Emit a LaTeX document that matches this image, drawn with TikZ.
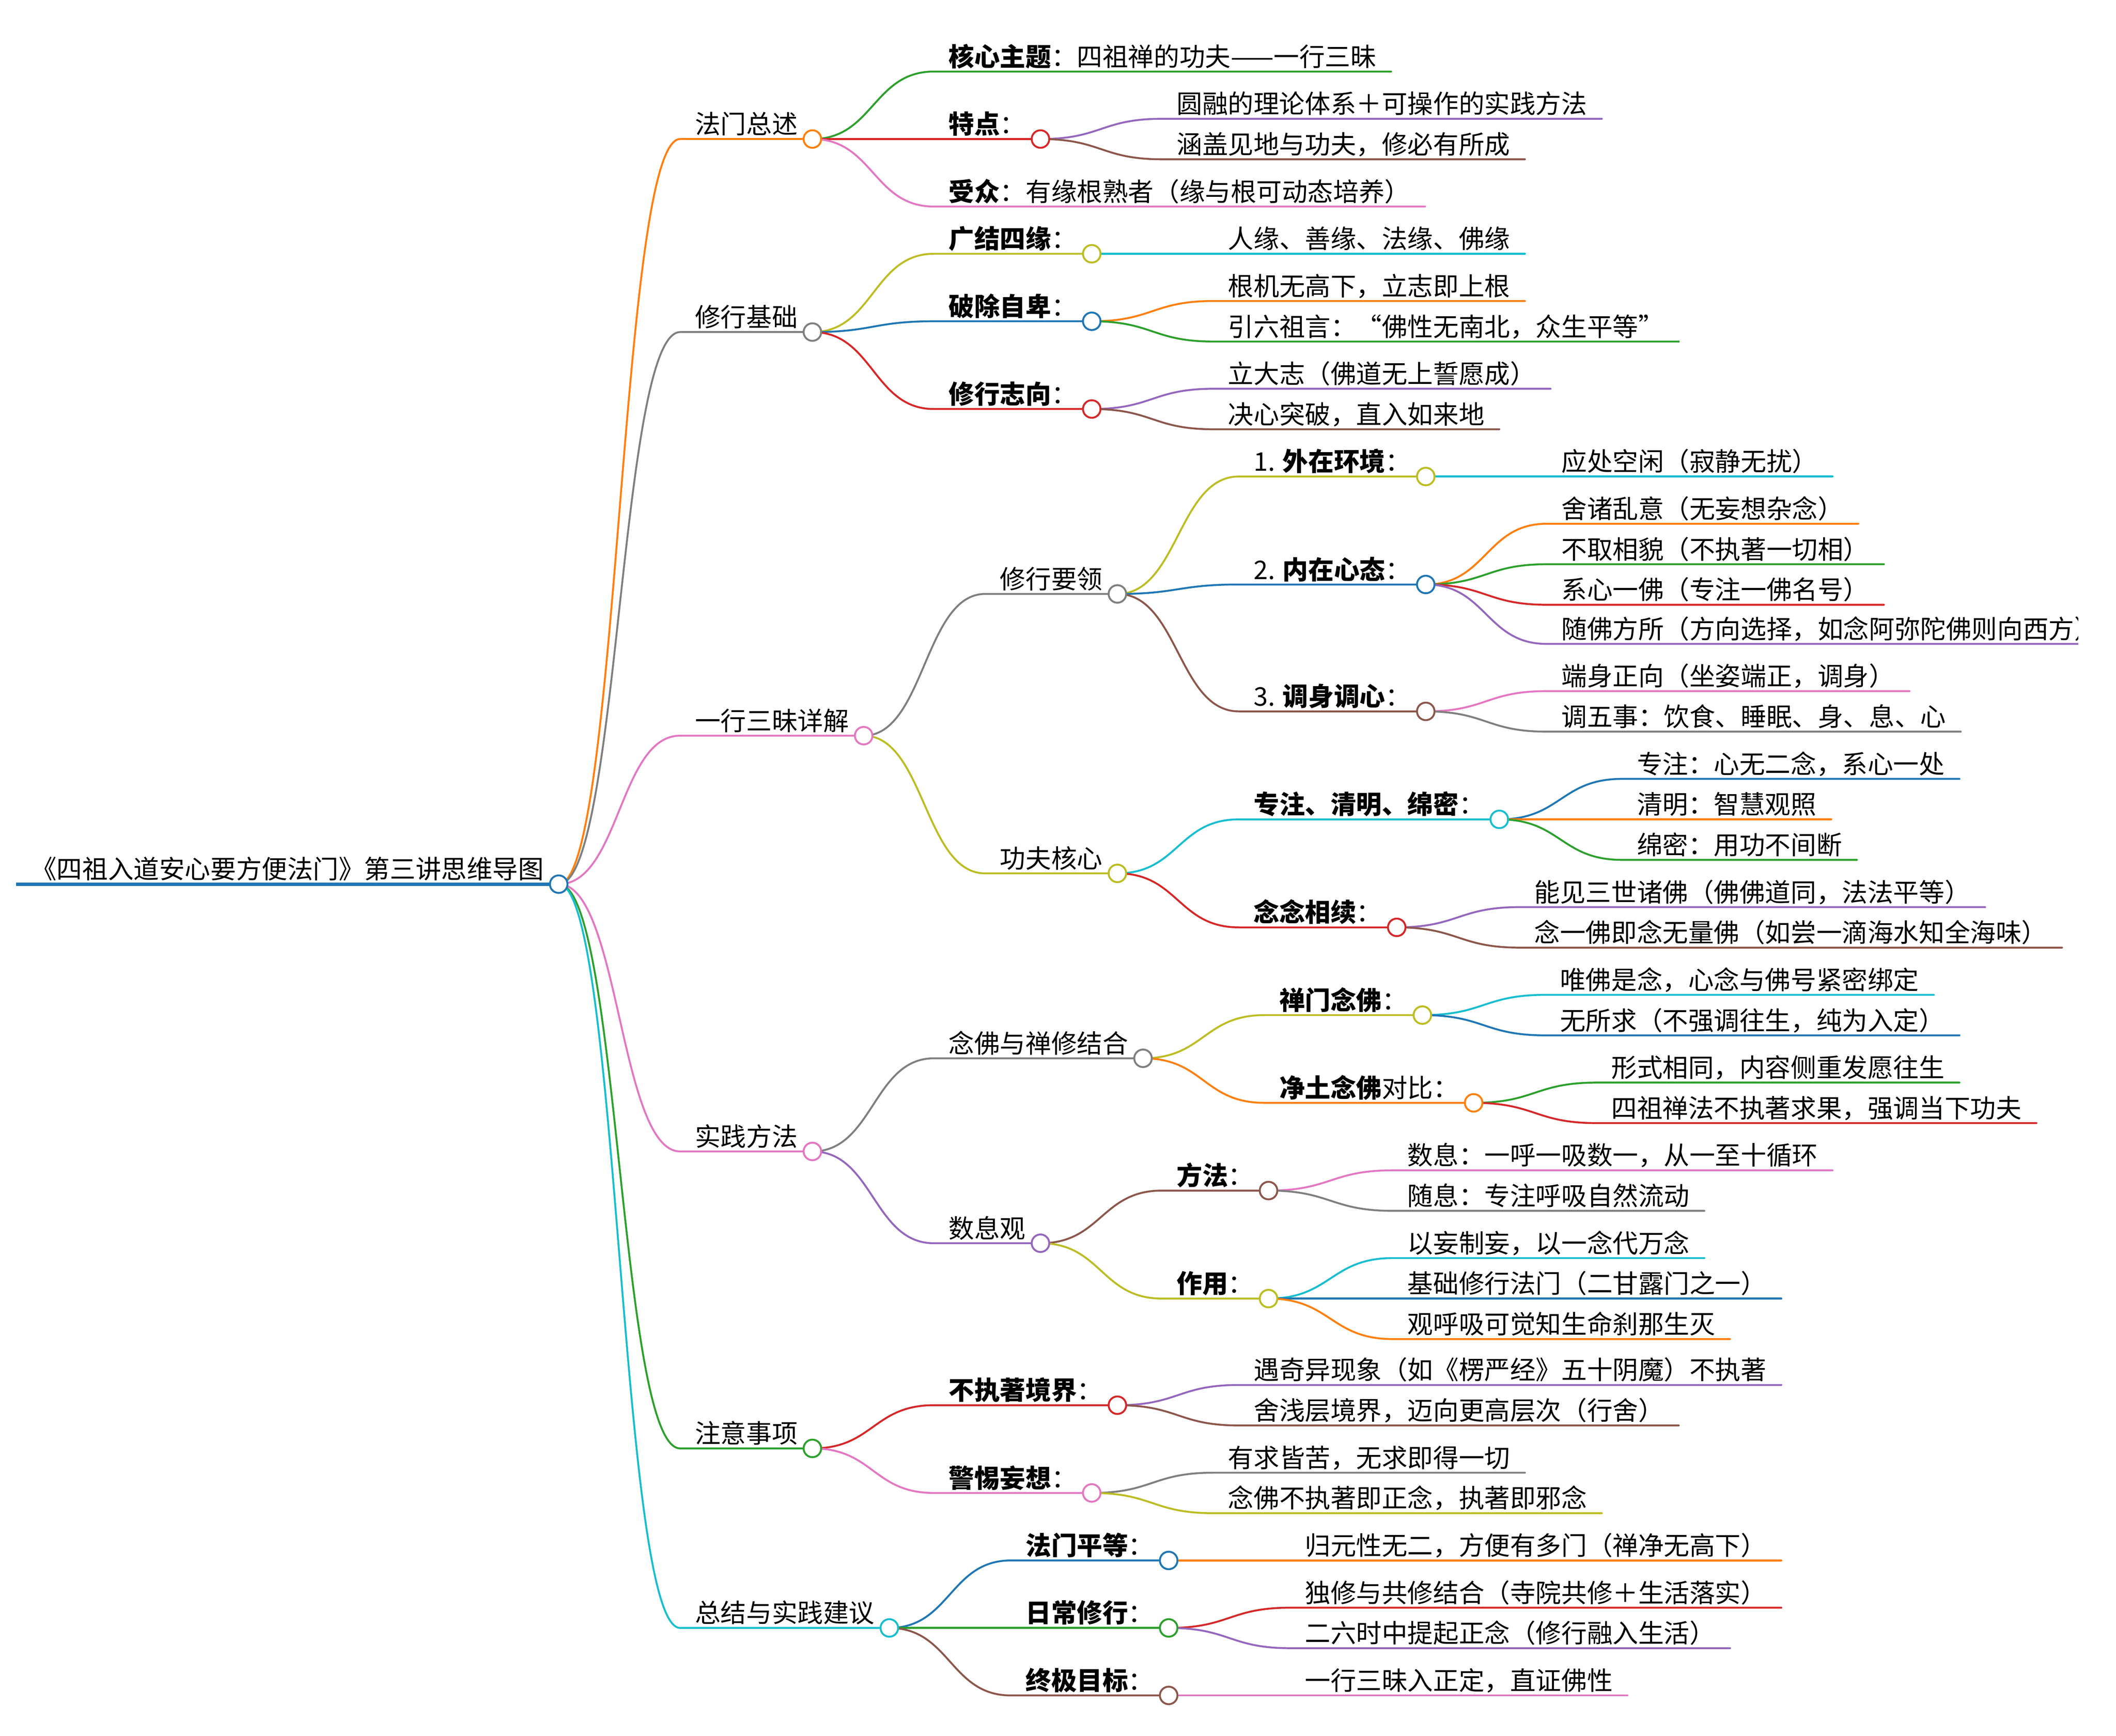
\documentclass[tikz,border=0pt]{standalone}
\usepackage{fontspec}
\setmainfont{Noto Sans CJK SC}
\usetikzlibrary{calc}
\definecolor{cblue}{HTML}{1F77B4}
\definecolor{corange}{HTML}{FF7F0E}
\definecolor{cgreen}{HTML}{2CA02C}
\definecolor{cred}{HTML}{D62728}
\definecolor{cpurple}{HTML}{9467BD}
\definecolor{cbrown}{HTML}{8C564B}
\definecolor{cpink}{HTML}{E377C2}
\definecolor{cgray}{HTML}{7F7F7F}
\definecolor{colive}{HTML}{BCBD22}
\definecolor{ccyan}{HTML}{17BECF}
\tikzset{
  lbl/.style={anchor=base west, inner sep=0pt, outer sep=0pt, text=black,
    font=\fontsize{19}{23}\selectfont},
  link/.style={line width=1.4pt, line cap=round},
  dot/.style={line width=1.4pt, fill=white},
  rootline/.style={line width=2.5pt, draw=cblue},
}
\newcommand{\mmtext}[4]{%
  \coordinate (#1s) at (#2,#3);
  \node[lbl] (#1) at ({#2+11},{#3-4}) {#4};
  \coordinate (#1e) at ($(#1.base east)+(11,4)$);
}
\newcommand{\mmlink}[3]{%
  \path ($(#1e)!0.5!(#2s)$) coordinate (mmmid);
  \draw[link,draw=#3] (#1e) .. controls (mmmid |- #1e) and (mmmid |- #2s) .. (#2s) -- (#2e);
}
\newcommand{\mmdot}[2]{\draw[dot,draw=#2] (#1e) circle[radius=6.5pt];}
\begin{document}
\begin{tikzpicture}[x=1pt,y=-1pt]
\useasboundingbox (0,0) rectangle (1568,1285.8);
\begin{scope}
\clip (0,0) rectangle (1540,1285.8);
% ---------- texts ----------
\mmtext{root}{12}{655}{《四祖入道安心要方便法门》第三讲思维导图}
\mmtext{a}{504}{103}{法门总述}
\mmtext{a1}{692}{53}{\textbf{核心主题}：四祖禅的功夫——一行三昧}
\mmtext{a2}{692}{103}{\textbf{特点}：}
\mmtext{a21}{861}{88}{圆融的理论体系＋可操作的实践方法}
\mmtext{a22}{861}{118}{涵盖见地与功夫，修必有所成}
\mmtext{a3}{692}{153}{\textbf{受众}：有缘根熟者（缘与根可动态培养）}
\mmtext{b}{504}{246}{修行基础}
\mmtext{b1}{692}{188}{\textbf{广结四缘}：}
\mmtext{b11}{899}{188}{人缘、善缘、法缘、佛缘}
\mmtext{b2}{692}{238}{\textbf{破除自卑}：}
\mmtext{b21}{899}{223}{根机无高下，立志即上根}
\mmtext{b22}{899}{253}{引六祖言：“佛性无南北，众生平等”}
\mmtext{b3}{692}{303}{\textbf{修行志向}：}
\mmtext{b31}{899}{288}{立大志（佛道无上誓愿成）}
\mmtext{b32}{899}{318}{决心突破，直入如来地}
\mmtext{c}{504}{545}{一行三昧详解}
\mmtext{c1}{730}{440}{修行要领}
\mmtext{c11}{918}{353}{1. \textbf{外在环境}：}
\mmtext{c111}{1146}{353}{应处空闲（寂静无扰）}
\mmtext{c12}{918}{433}{2. \textbf{内在心态}：}
\mmtext{c121}{1146}{388}{舍诸乱意（无妄想杂念）}
\mmtext{c122}{1146}{418}{不取相貌（不执著一切相）}
\mmtext{c123}{1146}{448}{系心一佛（专注一佛名号）}
\mmtext{c124}{1146}{477}{随佛方所（方向选择，如念阿弥陀佛则向西方）}
\mmtext{c13}{918}{527}{3. \textbf{调身调心}：}
\mmtext{c131}{1146}{512}{端身正向（坐姿端正，调身）}
\mmtext{c132}{1146}{542}{调五事：饮食、睡眠、身、息、心}
\mmtext{c2}{730}{647}{功夫核心}
\mmtext{c21}{918}{607}{\textbf{专注、清明、绵密}：}
\mmtext{c211}{1202}{577}{专注：心无二念，系心一处}
\mmtext{c212}{1202}{607}{清明：智慧观照}
\mmtext{c213}{1202}{637}{绵密：用功不间断}
\mmtext{c22}{918}{687}{\textbf{念念相续}：}
\mmtext{c221}{1126}{672}{能见三世诸佛（佛佛道同，法法平等）}
\mmtext{c222}{1126}{702}{念一佛即念无量佛（如尝一滴海水知全海味）}
\mmtext{d}{504}{853}{实践方法}
\mmtext{d1}{692}{784}{念佛与禅修结合}
\mmtext{d11}{937}{752}{\textbf{禅门念佛}：}
\mmtext{d111}{1145}{737}{唯佛是念，心念与佛号紧密绑定}
\mmtext{d112}{1145}{767}{无所求（不强调往生，纯为入定）}
\mmtext{d12}{937}{817}{\textbf{净土念佛}对比：}
\mmtext{d121}{1183}{802}{形式相同，内容侧重发愿往生}
\mmtext{d122}{1183}{832}{四祖禅法不执著求果，强调当下功夫}
\mmtext{d2}{692}{921}{数息观}
\mmtext{d21}{861}{882}{\textbf{方法}：}
\mmtext{d211}{1032}{867}{数息：一呼一吸数一，从一至十循环}
\mmtext{d212}{1032}{897}{随息：专注呼吸自然流动}
\mmtext{d22}{861}{962}{\textbf{作用}：}
\mmtext{d221}{1032}{932}{以妄制妄，以一念代万念}
\mmtext{d222}{1032}{962}{基础修行法门（二甘露门之一）}
\mmtext{d223}{1032}{992}{观呼吸可觉知生命刹那生灭}
\mmtext{e}{504}{1073}{注意事项}
\mmtext{e1}{692}{1041}{\textbf{不执著境界}：}
\mmtext{e11}{918}{1026}{遇奇异现象（如《楞严经》五十阴魔）不执著}
\mmtext{e12}{918}{1056}{舍浅层境界，迈向更高层次（行舍）}
\mmtext{e2}{692}{1106}{\textbf{警惕妄想}：}
\mmtext{e21}{899}{1091}{有求皆苦，无求即得一切}
\mmtext{e22}{899}{1121}{念佛不执著即正念，执著即邪念}
\mmtext{f}{504}{1206}{总结与实践建议}
\mmtext{f1}{749}{1156}{\textbf{法门平等}：}
\mmtext{f11}{956}{1156}{归元性无二，方便有多门（禅净无高下）}
\mmtext{f2}{749}{1206}{\textbf{日常修行}：}
\mmtext{f21}{956}{1191}{独修与共修结合（寺院共修＋生活落实）}
\mmtext{f22}{956}{1221}{二六时中提起正念（修行融入生活）}
\mmtext{f3}{749}{1256}{\textbf{终极目标}：}
\mmtext{f31}{956}{1256}{一行三昧入正定，直证佛性}
% ---------- connectors ----------
\draw[rootline] (roots) -- (roote);
\mmlink{root}{a}{corange}
\mmlink{root}{b}{cgray}
\mmlink{root}{c}{cpink}
\mmlink{root}{d}{cpink}
\mmlink{root}{e}{cgreen}
\mmlink{root}{f}{ccyan}
\mmlink{a}{a1}{cgreen}
\mmlink{a}{a2}{cred}
\mmlink{a}{a3}{cpink}
\mmlink{a2}{a21}{cpurple}
\mmlink{a2}{a22}{cbrown}
\mmlink{b}{b1}{colive}
\mmlink{b}{b2}{cblue}
\mmlink{b}{b3}{cred}
\mmlink{b1}{b11}{ccyan}
\mmlink{b2}{b21}{corange}
\mmlink{b2}{b22}{cgreen}
\mmlink{b3}{b31}{cpurple}
\mmlink{b3}{b32}{cbrown}
\mmlink{c}{c1}{cgray}
\mmlink{c}{c2}{colive}
\mmlink{c1}{c11}{colive}
\mmlink{c1}{c12}{cblue}
\mmlink{c1}{c13}{cbrown}
\mmlink{c11}{c111}{ccyan}
\mmlink{c12}{c121}{corange}
\mmlink{c12}{c122}{cgreen}
\mmlink{c12}{c123}{cred}
\mmlink{c12}{c124}{cpurple}
\mmlink{c13}{c131}{cpink}
\mmlink{c13}{c132}{cgray}
\mmlink{c2}{c21}{ccyan}
\mmlink{c2}{c22}{cred}
\mmlink{c21}{c211}{cblue}
\mmlink{c21}{c212}{corange}
\mmlink{c21}{c213}{cgreen}
\mmlink{c22}{c221}{cpurple}
\mmlink{c22}{c222}{cbrown}
\mmlink{d}{d1}{cgray}
\mmlink{d}{d2}{cpurple}
\mmlink{d1}{d11}{colive}
\mmlink{d1}{d12}{corange}
\mmlink{d11}{d111}{ccyan}
\mmlink{d11}{d112}{cblue}
\mmlink{d12}{d121}{cgreen}
\mmlink{d12}{d122}{cred}
\mmlink{d2}{d21}{cbrown}
\mmlink{d2}{d22}{colive}
\mmlink{d21}{d211}{cpink}
\mmlink{d21}{d212}{cgray}
\mmlink{d22}{d221}{ccyan}
\mmlink{d22}{d222}{cblue}
\mmlink{d22}{d223}{corange}
\mmlink{e}{e1}{cred}
\mmlink{e}{e2}{cpink}
\mmlink{e1}{e11}{cpurple}
\mmlink{e1}{e12}{cbrown}
\mmlink{e2}{e21}{cgray}
\mmlink{e2}{e22}{colive}
\mmlink{f}{f1}{cblue}
\mmlink{f}{f2}{cgreen}
\mmlink{f}{f3}{cbrown}
\mmlink{f1}{f11}{corange}
\mmlink{f2}{f21}{cred}
\mmlink{f2}{f22}{cpurple}
\mmlink{f3}{f31}{cpink}
% ---------- circles ----------
\mmdot{root}{cblue}
\mmdot{a}{corange}
\mmdot{b}{cgray}
\mmdot{c}{cpink}
\mmdot{d}{cpink}
\mmdot{e}{cgreen}
\mmdot{f}{ccyan}
\mmdot{a2}{cred}
\mmdot{b1}{colive}
\mmdot{b2}{cblue}
\mmdot{b3}{cred}
\mmdot{c1}{cgray}
\mmdot{c2}{colive}
\mmdot{c11}{colive}
\mmdot{c12}{cblue}
\mmdot{c13}{cbrown}
\mmdot{c21}{ccyan}
\mmdot{c22}{cred}
\mmdot{d1}{cgray}
\mmdot{d2}{cpurple}
\mmdot{d11}{colive}
\mmdot{d12}{corange}
\mmdot{d21}{cbrown}
\mmdot{d22}{colive}
\mmdot{e1}{cred}
\mmdot{e2}{cpink}
\mmdot{f1}{cblue}
\mmdot{f2}{cgreen}
\mmdot{f3}{cbrown}
\end{scope}
\end{tikzpicture}
\end{document}
